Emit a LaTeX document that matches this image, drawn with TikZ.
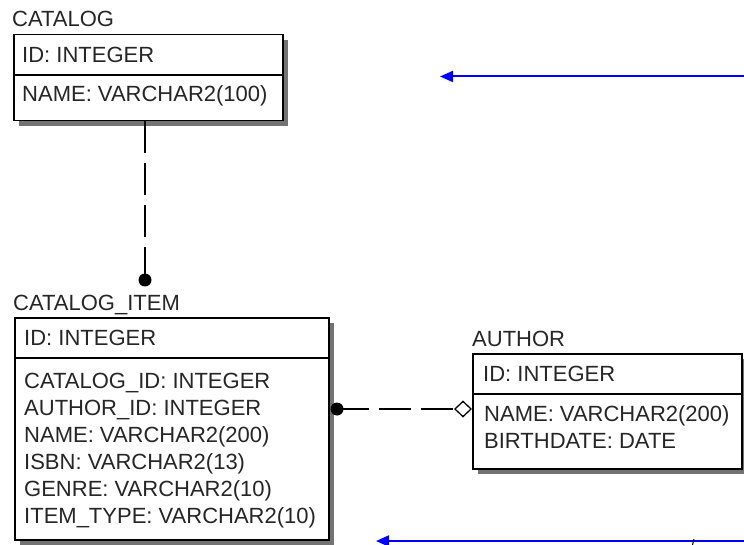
\documentclass[tikz,border=0pt]{standalone}
\usepackage{fontspec}
\setmainfont{Liberation Sans}
\usetikzlibrary{arrows.meta,shadows}

\begin{document}
\begin{tikzpicture}[x=1pt,y=-1pt,
    tablebox/.style={draw=black, line width=1.5pt, fill=white, anchor=north west, inner sep=0pt,
      drop shadow={shadow xshift=5pt, shadow yshift=-5pt, fill=black!55, opacity=1}},
    fieldtext/.style={anchor=base west, inner sep=0pt, text=black!85, font=\fontsize{22}{26}\selectfont},
    relline/.style={line width=1.4pt, dash pattern=on 32pt off 10pt},
    bluearrow/.style={draw=blue, line width=2pt, -{Triangle[length=13pt,width=11pt]}}]
        \useasboundingbox (0,0) rectangle (744,545);
        \def\rowh{27}
        %Draw boxes
        \node[tablebox, minimum width=269pt, minimum height=86pt] (catalog) at (13,34) {};
        \node[tablebox, minimum width=314pt, minimum height=222pt] (item) at (14,317) {};
        \node[tablebox, minimum width=269pt, minimum height=115pt] (author) at (472,353) {};
        \draw[line width=1.5pt] (catalog.west |- 0,75) -- (catalog.east |- 0,75);
        \draw[line width=1.5pt] (item.west |- 0,358) -- (item.east |- 0,358);
        \draw[line width=1.5pt] (author.west |- 0,394) -- (author.east |- 0,394);
        %Draw labels
        \node[fieldtext] (catalogtitle) at (12,27) {CATALOG};
        \node[fieldtext] (catalogid) at (22,63) {ID: INTEGER};
        \node[fieldtext] (catalogname) at (22,102) {NAME: VARCHAR2(100)};
        \node[fieldtext] (itemtitle) at (13,310) {CATALOG\_ITEM};
        \node[fieldtext] (itemid) at (24,345) {ID: INTEGER};
        \node[fieldtext] (itemcatalog) at (24,388) {CATALOG\_ID: INTEGER};
        \node[fieldtext] (itemauthor) at (24,388+\rowh) {AUTHOR\_ID: INTEGER};
        \node[fieldtext] (itemname) at (24,388+2*\rowh) {NAME: VARCHAR2(200)};
        \node[fieldtext] (itemisbn) at (24,388+3*\rowh) {ISBN: VARCHAR2(13)};
        \node[fieldtext] (itemgenre) at (24,388+4*\rowh) {GENRE: VARCHAR2(10)};
        \node[fieldtext] (itemtype) at (24,388+5*\rowh) {ITEM\_TYPE: VARCHAR2(10)};
        \node[fieldtext] (authortitle) at (472,346) {AUTHOR};
        \node[fieldtext] (authorid) at (483,381) {ID: INTEGER};
        \node[fieldtext] (authorname) at (484,421.5) {NAME: VARCHAR2(200)};
        \node[fieldtext] (authorbirth) at (484,448.5) {BIRTHDATE: DATE};
        %Draw relations
        \coordinate (itemdot) at (145,280);
        \coordinate (authordot) at (337,409);
        \draw[relline] (itemdot |- catalog.south) -- (itemdot);
        \fill (itemdot) circle (6.5);
        \draw[relline, -{Diamond[open, length=18pt, width=17pt, line width=1.3pt]}] (authordot) -- (author.west |- authordot);
        \fill (authordot) circle (6.5);
        %Draw arrows
        \coordinate (topfrom) at (744,76.5);
        \coordinate (topto) at (440,76.5);
        \coordinate (botfrom) at (744,541);
        \coordinate (botto) at (376,541);
        \draw[bluearrow] (topfrom) -- (topto);
        \draw[bluearrow] (botfrom) -- (botto);
        \draw[line width=1pt] (692.5,545) -- (694,539);
      \end{tikzpicture}
\end{document}
